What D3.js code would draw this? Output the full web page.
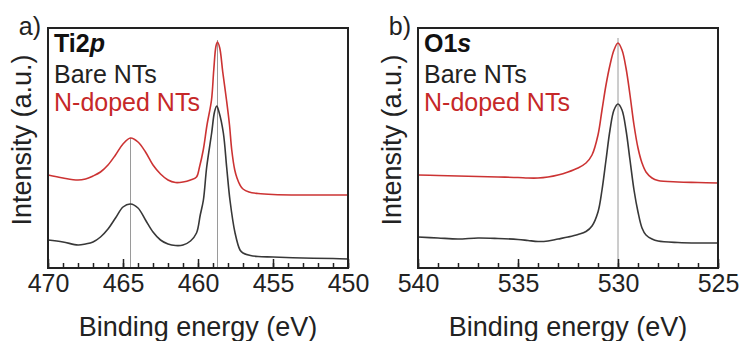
<!DOCTYPE html>
<html>
<head>
<meta charset="utf-8">
<script src="https://cdn.jsdelivr.net/npm/d3@7"></script>
<style>
  html, body { margin: 0; padding: 0; background: #fff; }
  svg { display: block; font-family: "Liberation Sans", Arial, sans-serif; }
</style>
</head>
<body>
<svg id="chart" width="746" height="341"></svg>
<script>
// ---- Ti 2p spectra (binding energy in eV, intensity in a.u.) ----
const ti2pEnergy = [470, 469, 468, 467.5, 467, 466.5, 466, 465.5, 465, 464.5, 464, 463.5, 463, 462.5, 462, 461.5, 461, 460.5, 460.1, 459.85, 459.64, 459.42, 459.09, 458.9, 458.75, 458.6, 458.31, 458.09, 457.87, 457.53, 457.2, 457, 456.5, 456, 455, 453, 451, 450];
const ti2pBare =   [28, 26, 23, 24, 26, 31, 39, 50, 61, 64, 60, 48, 36, 28, 24, 22.5, 23, 27, 35, 53, 68, 101, 135, 156, 162, 156, 135, 101, 68, 35, 18, 15, 12.5, 11.5, 11, 10, 9.5, 9];

const ti2pDopedEnergy = [470, 469, 468, 467.5, 467, 466.5, 466, 465.5, 465, 464.5, 464, 463.5, 463, 462.5, 462, 461.5, 461, 460.5, 460.1, 459.9, 459.65, 459.4, 459.1, 458.95, 458.8, 458.7, 458.55, 458.35, 458.1, 457.9, 457.75, 457.55, 457.4, 457.2, 457, 456.6, 456, 455, 453, 450];
const ti2pDoped =       [93, 90, 88, 89, 92, 96, 103, 113, 124, 130, 126, 116, 103, 94, 88, 85.5, 86, 88, 91, 101, 118, 143, 168, 198, 222, 226, 220, 196, 168, 143, 118, 98, 90, 83, 79, 76, 74.5, 73.5, 73, 73];

// ---- O 1s spectra ----
const o1sEnergy = [540, 539, 538, 537, 536, 535, 534.5, 534, 533.5, 533, 532.5, 532, 531.6, 531.3, 531, 530.8, 530.6, 530.4, 530.2, 530, 529.8, 529.6, 529.4, 529.2, 529, 528.8, 528.6, 528.3, 528, 527, 526, 525];
const o1sBare =   [31, 30, 29, 30, 29.5, 28.5, 27.5, 26.5, 27, 29, 31, 33.5, 36.5, 42, 56, 78, 108, 138, 158, 164, 158, 138, 108, 78, 56, 40, 33, 29, 27, 25.5, 25, 25];
const o1sDoped =  [93, 92.5, 92, 91.5, 91, 90.5, 90, 90, 91, 93, 96, 100, 105, 113, 133, 158, 183, 203, 218, 225, 218, 200, 173, 143, 120, 105, 96, 90, 87.5, 86, 85.5, 85];

// ---- axis ticks and peak markers ----
const ti2pMajorTicks = [470, 465, 460, 455, 450];
const o1sMajorTicks = [540, 535, 530, 525];
const ti2pPeakPositions = [464.5, 458.7];
const ti2pPeakTops = [130, 228];
const o1sPeakPositions = [530.0];
const o1sPeakTops = [230];

const seriesNames = ["Bare NTs", "N-doped NTs"];
const seriesColors = ["#383838", "#cc3333"];
const legendColors = ["#222222", "#c62828"];

const panels = [
  {
    letter: "a)", element: "Ti2", orbital: "p",
    left: 48, right: 348, top: 28, bottom: 268,
    domain: [470, 450], majors: ti2pMajorTicks,
    series: [
      { x: ti2pEnergy, y: ti2pBare },
      { x: ti2pDopedEnergy, y: ti2pDoped }
    ],
    peaks: ti2pPeakPositions, peakTops: ti2pPeakTops
  },
  {
    letter: "b)", element: "O1", orbital: "s",
    left: 418, right: 718, top: 28, bottom: 268,
    domain: [540, 525], majors: o1sMajorTicks,
    series: [
      { x: o1sEnergy, y: o1sBare },
      { x: o1sEnergy, y: o1sDoped }
    ],
    peaks: o1sPeakPositions, peakTops: o1sPeakTops
  }
];

const svg = d3.select("#chart");
const FONT = 25;
const TITLE_FONT = 27;

panels.forEach(p => {
  const x = d3.scaleLinear().domain(p.domain).range([p.left, p.right]);
  const y = d3.scaleLinear().domain([0, 240]).range([p.bottom, p.top]);
  const g = svg.append("g");

  // peak position markers
  p.peaks.forEach((e, i) => {
    g.append("line")
      .attr("x1", x(e)).attr("x2", x(e))
      .attr("y1", y(0)).attr("y2", y(p.peakTops[i]))
      .attr("stroke", "#9a9a9a").attr("stroke-width", 1);
  });

  // spectra
  const line = d3.line().curve(d3.curveCatmullRom.alpha(0.5));
  p.series.forEach((s, i) => {
    const pts = s.x.map((e, k) => [x(e), y(s.y[k])]);
    g.append("path")
      .attr("d", line(pts))
      .attr("fill", "none")
      .attr("stroke", seriesColors[i])
      .attr("stroke-width", 1.6)
      .attr("stroke-linejoin", "round");
  });

  // minor ticks (1 eV)
  const lo = Math.min(...p.domain), hi = Math.max(...p.domain);
  const minorAxis = d3.axisBottom(x)
    .tickValues(d3.range(lo, hi + 1, 1))
    .tickSize(-5).tickFormat("");
  const ma = g.append("g").attr("transform", `translate(0,${p.bottom})`).call(minorAxis);
  ma.select(".domain").remove();
  ma.selectAll("line").attr("stroke", "#222").attr("stroke-width", 1.5);

  // major ticks with labels
  const majorAxis = d3.axisBottom(x)
    .tickValues(p.majors).tickSize(-9).tickPadding(6).tickFormat(d3.format("d"));
  const mj = g.append("g").attr("transform", `translate(0,${p.bottom})`).call(majorAxis);
  mj.select(".domain").remove();
  mj.selectAll("line").attr("stroke", "#222").attr("stroke-width", 1.5);
  mj.selectAll("text")
    .attr("font-size", FONT).attr("font-family", "Liberation Sans, Arial, sans-serif")
    .attr("fill", "#222");

  // frame
  g.append("rect")
    .attr("x", p.left).attr("y", p.top)
    .attr("width", p.right - p.left).attr("height", p.bottom - p.top)
    .attr("fill", "none").attr("stroke", "#222").attr("stroke-width", 2);

  // axis titles
  g.append("text")
    .attr("x", (p.left + p.right) / 2).attr("y", 336)
    .attr("text-anchor", "middle").attr("font-size", TITLE_FONT).attr("fill", "#222")
    .text("Binding energy (eV)");
  g.append("text")
    .attr("transform", `translate(${p.left - 17},140) rotate(-90)`)
    .attr("text-anchor", "middle").attr("font-size", TITLE_FONT).attr("fill", "#222")
    .text("Intensity (a.u.)");

  // panel letter
  g.append("text")
    .attr("x", p.left - 7).attr("y", 35)
    .attr("text-anchor", "end").attr("font-size", FONT).attr("fill", "#222")
    .text(p.letter);

  // legend
  const lt = g.append("text")
    .attr("x", p.left + 6).attr("y", 52)
    .attr("font-size", FONT).attr("font-weight", "bold").attr("fill", "#111");
  lt.append("tspan").text(p.element);
  lt.append("tspan").attr("font-style", "italic").text(p.orbital);
  seriesNames.forEach((name, i) => {
    g.append("text")
      .attr("x", p.left + 6).attr("y", 83 + i * 28)
      .attr("font-size", FONT).attr("fill", legendColors[i])
      .text(name);
  });
});
</script>
</body>
</html>
